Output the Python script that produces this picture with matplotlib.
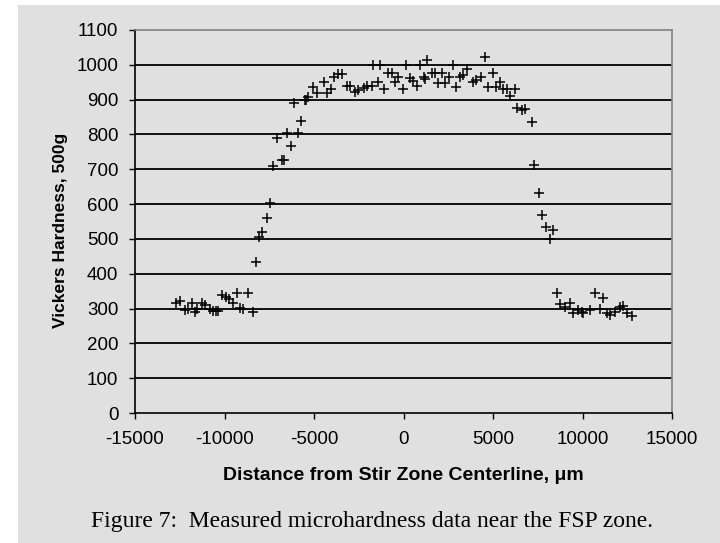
import matplotlib
matplotlib.use("Agg")
import matplotlib.pyplot as plt
from matplotlib.patches import Rectangle

# Distance from stir zone centerline (um) and Vickers hardness (500g)
dist_left = [-12717, -12494, -12214, -12030, -11840, -11655, -11560, -11280, -11096,
             -10817, -10630, -10480, -10350, -10165, -9940, -9737, -9550, -9290,
             -9140, -8955, -8675, -8430]
hv_left = [315, 322, 296, 298, 315, 291, 298, 317, 310,
           298, 294, 294, 294, 339, 334, 326, 315, 344,
           303, 300, 344, 291]

dist_rise = [-8245, -8060, -7927, -7647, -7463, -7278, -6810, -6680, -6306, -7090,
             -6530, -5880, -5730, -6120, -5450, -5320, -5506]
hv_rise = [434, 506, 521, 559, 602, 710, 728, 728, 767, 791,
           805, 805, 839, 889, 899, 908, 899]

dist_top = [-5040, -4818, -4290, -4427, -4053, -3885, -3645, -3455, -3175, -2990,
            -2710, -2525, -2190, -2023, -1777, -1688, -1314, -1408, -1073, -850,
            -660, -475, -325, -45, 123, 362, 548, 771, 922, 1163,
            1297, 1200, 1576, 1760, 1945, 2135, 2320, 2560, 2750, 2935,
            3158, 3343, 3530, 3900, 4053, 4315, 4556, 4740, 4986, 5170,
            5394, 5580, 5800, 5953, 6233]
hv_top = [937, 918, 918, 950, 930, 964, 974, 975, 939, 939,
          923, 928, 932, 939, 940, 999, 999, 950, 930, 977,
          977, 950, 966, 930, 999, 961, 954, 939, 999, 966,
          1014, 958, 977, 977, 949, 977, 949, 966, 999, 937,
          966, 971, 987, 951, 956, 966, 1023, 937, 976, 937,
          951, 930, 930, 910, 930]

dist_fall = [6330, 6610, 6790, 7165, 7296, 7575, 7725, 7966, 8375, 8190]
hv_fall = [875, 870, 872, 837, 712, 631, 569, 535, 526, 499]

dist_right = [8563, 8750, 9028, 9307, 9460, 9773, 9960, 10050, 10425, 10705,
              11135, 10985, 11393, 11543, 11823, 12100, 12290, 12510, 12757]
hv_right = [344, 313, 305, 315, 286, 296, 291, 286, 296, 344,
            329, 298, 286, 281, 291, 305, 307, 288, 279]

x = dist_left + dist_rise + dist_top + dist_fall + dist_right
y = hv_left + hv_rise + hv_top + hv_fall + hv_right

x_ticks = [-15000, -10000, -5000, 0, 5000, 10000, 15000]
y_ticks = list(range(0, 1101, 100))

bg = "#e0e0e0"
fig = plt.figure(figsize=(7.2, 5.43), dpi=100)
fig.patch.set_facecolor("white")
# gray page background, slightly inset from the left and top
fig.patches.append(Rectangle((18 / 720, 0), 1 - 18 / 720, 1 - 5 / 543,
                             transform=fig.transFigure, facecolor=bg,
                             edgecolor="none", zorder=-10))

ax = fig.add_axes([135 / 720, 1 - 413 / 543, 537 / 720, 383 / 543])
ax.set_facecolor(bg)

for v in y_ticks[1:-1]:
    ax.axhline(v, color="black", lw=1.3, zorder=1)

ax.plot(x, y, linestyle="none", marker="+", color="black",
        markersize=7.5, markeredgewidth=1.1, zorder=3)

ax.set_xlim(-15000, 15000)
ax.set_ylim(0, 1100)
ax.set_xticks(x_ticks)
ax.set_yticks(y_ticks)

font = "Liberation Sans"
ax.set_xticklabels([str(t) for t in x_ticks], fontsize=13.5, family=font)
ax.set_yticklabels([str(t) for t in y_ticks], fontsize=13.5, family=font)
ax.tick_params(axis="x", direction="out", length=4, width=1, pad=9)
ax.tick_params(axis="y", direction="out", length=4, width=1, pad=8)

for side in ["left", "bottom"]:
    ax.spines[side].set_color("black")
    ax.spines[side].set_linewidth(1.2)
for side in ["top", "right"]:
    ax.spines[side].set_color("#808080")
    ax.spines[side].set_linewidth(1.2)

fig.text(60 / 720, 1 - 230 / 543, "Vickers Hardness, 500g", rotation=90,
         ha="center", va="center", fontsize=12.5, fontweight="bold", family=font)
fig.text(403 / 720, 1 - 475 / 543, "Distance from Stir Zone Centerline, \u03bcm",
         ha="center", va="center", fontsize=14, fontweight="bold", family=font)
fig.text(372 / 720, 1 - 522 / 543,
         "Figure 7:  Measured microhardness data near the FSP zone.",
         ha="center", va="center", fontsize=17, family="Liberation Serif")

fig.savefig("out.png", dpi=100, facecolor=fig.get_facecolor())
